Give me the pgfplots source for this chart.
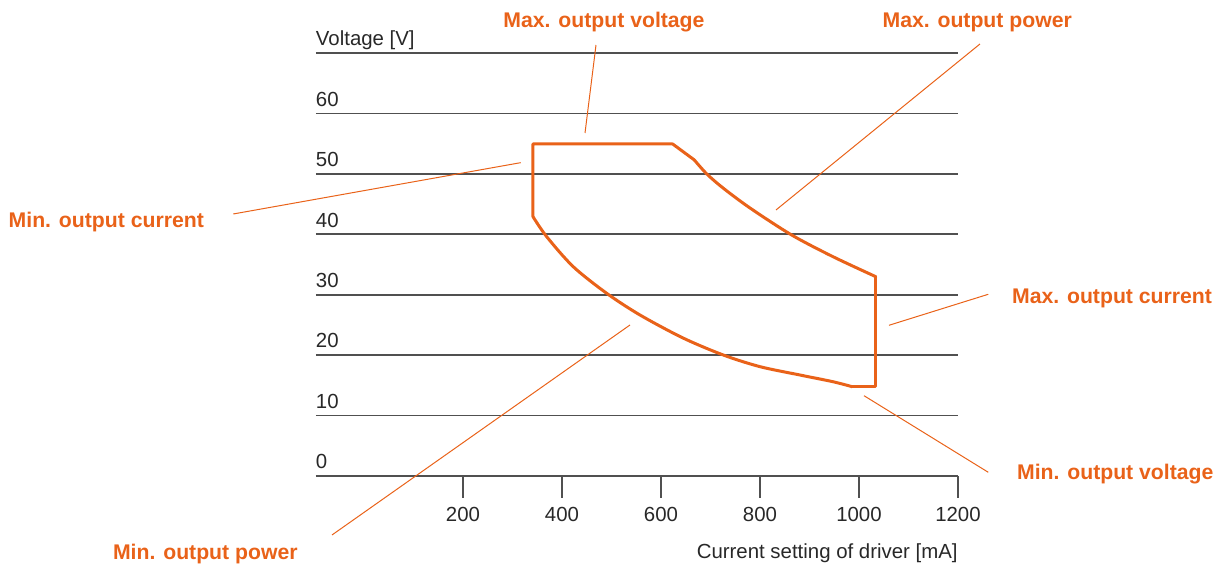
\documentclass[border=0pt]{standalone}
\usepackage{pgfplots}
\pgfplotsset{compat=1.18}
\usepackage{fontspec}
\setmainfont{Liberation Sans}
\definecolor{orng}{RGB}{233,98,25}
\definecolor{gridc}{RGB}{80,80,80}
\definecolor{txt}{RGB}{40,40,40}
\newcommand{\lf}{\fontsize{10.2}{12}\selectfont}
\newcommand{\obf}{\fontsize{10.6}{12}\selectfont\bfseries}
\begin{document}
\begin{tikzpicture}
\begin{axis}[
  scale only axis, width=321pt, height=211.5pt,
  xmin=-97, xmax=1200, ymin=0, ymax=70,
  axis x line*=bottom, axis y line*=left,
  y axis line style={draw=none},
  x axis line style={gridc, line width=0.8pt, -},
  xtick={200,400,...,1200},
  ytick={0,10,...,70},
  yticklabels={0,10,20,30,40,50,60,Voltage [V]},
  ymajorgrids, major grid style={gridc, line width=0.8pt},
  tick align=outside, major tick length=11pt,
  xtick style={gridc, line width=0.8pt},
  ytick style={draw=none},
  /pgf/number format/1000 sep={},
  /pgf/number format/assume math mode=true,
  xticklabel style={font=\lf, text=txt, anchor=north, inner sep=0pt, yshift=-4.5pt},
  yticklabel style={font=\lf, text=txt, anchor=base west, inner sep=0pt, yshift=3.6pt, xshift=10.8pt},
  xlabel={Current setting of driver [mA]},
  xlabel style={at={(axis description cs:1,-0.1939)}, anchor=base east, inner sep=0pt, font=\lf, text=txt},
  clip=false,
]
\addplot[orng, line width=1.5pt, line join=round, line cap=round] coordinates {
  (341.4,42.91) (341.4,54.94) (623.6,54.94) (667.3,52.3)
};
\addplot[orng, line width=1.5pt, line cap=round, smooth] coordinates {
  (667.3,52.3) (692.3,50.0) (725.3,47.66)
  (779.8,44.35) (864,39.88) (947.5,36.29) (1034,32.98)
};
\addplot[orng, line width=1.5pt, line join=round, line cap=round] coordinates {
  (1034,32.98) (1034,14.78) (986,14.78)
};
\addplot[orng, line width=1.5pt, line cap=round, smooth] coordinates {
  (986,14.78) (947.5,15.6) (880.8,16.71) (800,18.09)
  (725.9,20.02) (644.4,22.84) (557.6,26.64) (490.3,30.23) (422.8,34.63)
  (369.1,39.6) (341.4,42.91)
};
% leader lines
\draw[orng, line width=0.5pt] (axis cs:468.7,71.32) -- (axis cs:446.5,56.76);
\draw[orng, line width=0.5pt] (axis cs:1244.4,71.49) -- (axis cs:832.3,44.02);
\draw[orng, line width=0.5pt] (axis cs:-264,43.36) -- (axis cs:316.6,51.85);
\draw[orng, line width=0.5pt] (axis cs:1261.2,30.07) -- (axis cs:1060.6,24.94);
\draw[orng, line width=0.5pt] (axis cs:1261.2,0.61) -- (axis cs:1010.1,13.29);
\draw[orng, line width=0.5pt] (axis cs:-64.6,-9.76) -- (axis cs:537.4,24.99);
% labels
\node[anchor=base, inner sep=0pt, text=orng, font=\obf] at (axis cs:484.8,74.25) {Max. output voltage};
\node[anchor=base, inner sep=0pt, text=orng, font=\obf] at (axis cs:1238.8,74.25) {Max. output power};
\node[anchor=base west, inner sep=0pt, text=orng, font=\obf] at (axis cs:-718.5,41.16) {Min. output current};
\node[anchor=base west, inner sep=0pt, text=orng, font=\obf] at (axis cs:1308.5,28.58) {Max. output current};
\node[anchor=base west, inner sep=0pt, text=orng, font=\obf] at (axis cs:1318.6,-0.66) {Min. output voltage};
\node[anchor=base west, inner sep=0pt, text=orng, font=\obf] at (axis cs:-507.7,-13.78) {Min. output power};
\coordinate (bbl) at (axis cs:-735.35,-14.56);
\coordinate (btr) at (axis cs:1729.3,78.77);
\end{axis}
\pgfresetboundingbox
\useasboundingbox (bbl) rectangle (btr);
\end{tikzpicture}
\end{document}
